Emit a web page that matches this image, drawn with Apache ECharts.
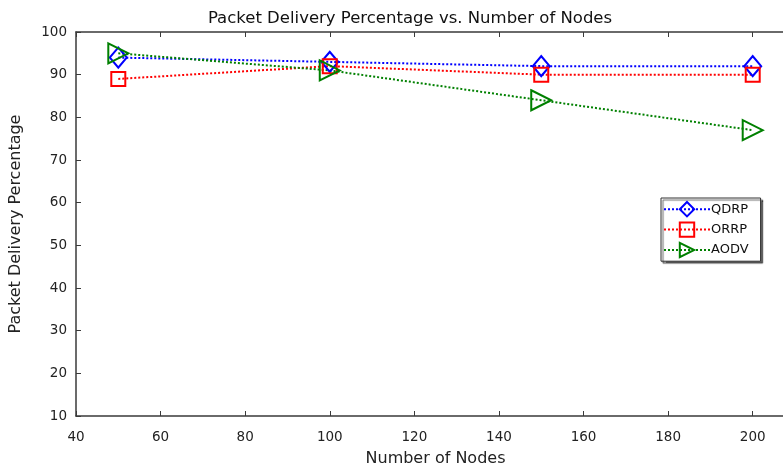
<!DOCTYPE html>
<html>
<head>
<meta charset="utf-8">
<script src="https://cdn.jsdelivr.net/npm/echarts@6/dist/echarts.min.js"></script>
<style>
  html, body { margin: 0; padding: 0; background: #fff; }
  #chart { width: 783px; height: 467px; }
</style>
</head>
<body>
<div id="chart"></div>
<script>
// Number of nodes on the x axis
const nodes = [50, 100, 150, 200];

// Packet delivery percentage per routing protocol
const qdrp = [94, 93, 92, 92];
const orrp = [89, 92, 90, 90];
const aodv = [95, 91, 84, 77];

const seriesNames = ['QDRP', 'ORRP', 'AODV'];

const FONT = 'DejaVu Sans';
const AXIS_COLOR = '#3a3a3a';
const TRI_RIGHT = 'path://M0,0 L10,5 L0,10 Z';

function pairs(values) {
  return nodes.map((n, i) => [n, values[i]]);
}

function lineSeries(name, values, color, symbol, size) {
  return {
    name: name,
    type: 'line',
    data: pairs(values),
    symbol: symbol,
    symbolSize: size,
    showAllSymbol: true,
    lineStyle: { color: color, width: 2, type: [2, 2] },
    itemStyle: { color: 'rgba(255,255,255,0)', borderColor: color, borderWidth: 2 },
    emphasis: { disabled: true },
    animation: false
  };
}

const chart = echarts.init(document.getElementById('chart'), null, { renderer: 'canvas' });

chart.setOption({
  backgroundColor: '#fff',
  animation: false,
  title: {
    text: 'Packet Delivery Percentage vs. Number of Nodes',
    left: 405,
    textAlign: 'center',
    top: 5,
    textStyle: { fontFamily: FONT, fontSize: 16.5, fontWeight: 'normal', color: '#111' }
  },
  legend: {
    data: seriesNames,
    orient: 'vertical',
    left: 661,
    top: 198,
    itemWidth: 46,
    itemHeight: 18,
    itemGap: 4,
    padding: [3, 12, 3, 2],
    backgroundColor: '#fff',
    borderColor: '#333',
    borderWidth: 1,
    shadowColor: 'rgba(0,0,0,0.6)',
    shadowOffsetX: 2,
    shadowOffsetY: 2,
    shadowBlur: 1,
    textStyle: { fontFamily: FONT, fontSize: 13, color: '#111', padding: [0, 0, 0, -4] }
  },
  grid: { left: 76, right: -12, top: 32, bottom: 51, outerBoundsMode: 'none' },
  xAxis: [{
    type: 'value',
    min: 40,
    max: 210,
    interval: 20,
    name: 'Number of Nodes',
    nameLocation: 'middle',
    nameGap: 35,
    nameTextStyle: { fontFamily: FONT, fontSize: 16, color: '#222' },
    axisLine: { lineStyle: { color: AXIS_COLOR, width: 1.5 } },
    axisTick: { inside: true, length: 5, lineStyle: { color: AXIS_COLOR } },
    axisLabel: {
      fontFamily: FONT, fontSize: 13.5, color: '#222', margin: 14,
      formatter: v => (v % 20 === 0 ? String(v) : '')
    },
    splitLine: { show: false }
  }, {
    type: 'value',
    position: 'top',
    min: 40,
    max: 210,
    interval: 20,
    axisLine: { show: true, lineStyle: { color: AXIS_COLOR, width: 1.5 } },
    axisTick: { show: true, inside: true, length: 5, lineStyle: { color: AXIS_COLOR } },
    axisLabel: { show: false },
    splitLine: { show: false }
  }],
  yAxis: {
    type: 'value',
    min: 10,
    max: 100,
    interval: 10,
    name: 'Packet Delivery Percentage',
    nameLocation: 'middle',
    nameGap: 52,
    nameTextStyle: { fontFamily: FONT, fontSize: 16, color: '#222' },
    axisLine: { show: true, lineStyle: { color: AXIS_COLOR, width: 1.5 } },
    axisTick: { show: true, inside: true, length: 5, lineStyle: { color: AXIS_COLOR } },
    axisLabel: { fontFamily: FONT, fontSize: 13.5, color: '#222', margin: 9 },
    splitLine: { show: false }
  },
  series: [
    lineSeries('QDRP', qdrp, '#0000ff', 'diamond', [17, 20]),
    lineSeries('ORRP', orrp, '#ff0000', 'rect', [14, 14]),
    lineSeries('AODV', aodv, '#008000', TRI_RIGHT, [20, 20])
  ]
});
</script>
</body>
</html>
